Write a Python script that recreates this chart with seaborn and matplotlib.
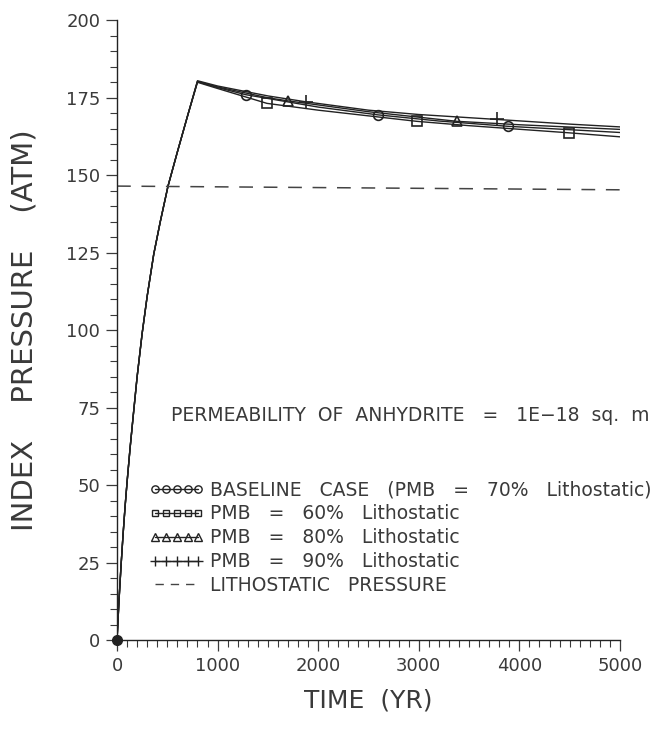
import numpy as np
import pandas as pd
import matplotlib
matplotlib.use("Agg")
import matplotlib.pyplot as plt
import seaborn as sns
from matplotlib.ticker import MultipleLocator
from matplotlib.lines import Line2D

# ---- data ----
rise_t = [0, 20, 40, 60, 80, 100, 130, 160, 200, 250, 300, 365, 430, 507, 600, 700]
rise_p = [0, 13, 24, 34, 43, 51, 62, 72, 85, 99, 111, 124.5, 135, 146.5, 157.5, 169]

t70 = [800, 1000, 1280, 2000, 2590, 3200, 3885, 4500, 5000]
p70 = [180.2, 178.3, 176.0, 172.0, 169.5, 167.5, 165.8, 164.7, 163.8]
m70 = [1280, 2590, 3885]

t60 = [800, 1000, 1490, 2000, 2980, 3500, 4490, 5000]
p60 = [180.0, 178.0, 173.2, 171.0, 167.4, 166.0, 163.7, 162.4]
m60 = [1490, 2980, 4490]

t80 = [800, 1000, 1500, 1700, 2500, 3380, 4000, 5000]
p80 = [180.3, 178.5, 175.0, 174.0, 170.5, 167.4, 166.3, 164.8]
m80 = [1700, 3380]

t90 = [800, 1000, 1500, 1877, 2500, 3000, 3780, 4500, 5000]
p90 = [180.5, 178.8, 175.6, 173.7, 171.0, 169.6, 168.0, 166.5, 165.6]
m90 = [1877, 3780]

litho_t = [0, 5000]
litho_p = [146.5, 145.3]

labels = ["BASELINE   CASE   (PMB   =   70%   Lithostatic)",
          "PMB   =   60%   Lithostatic",
          "PMB   =   80%   Lithostatic",
          "PMB   =   90%   Lithostatic",
          "LITHOSTATIC   PRESSURE"]
annotation = "PERMEABILITY  OF  ANHYDRITE   =   1E\u221218  sq.  m"
x_ticks = [0, 1000, 2000, 3000, 4000, 5000]
y_ticks = [0, 25, 50, 75, 100, 125, 150, 175, 200]

# ---- style ----
sns.set_style("ticks")
plt.rcParams["font.family"] = ["DejaVu Sans"]
INK = "#222222"
TXT = "#3a3a3a"

fig = plt.figure(figsize=(6.6, 7.36), dpi=100)
ax = fig.add_axes([0.1773, 0.1304, 0.762, 0.842])

series = [
    (t70, p70, m70, "o", 7),
    (t60, p60, m60, "s", 6.5),
    (t80, p80, m80, "^", 7),
    (t90, p90, m90, "+", 10),
]
handles = []
for (tt, pp, mm, mk, ms), lab in zip(series, labels[:4]):
    x = np.array(rise_t + tt, dtype=float)
    y = np.array(rise_p + pp, dtype=float)
    idx = [int(np.where(x == m)[0][0]) for m in mm]
    sns.lineplot(x=x, y=y, ax=ax, color=INK, lw=1.0, estimator=None, sort=False,
                 marker=mk, markevery=idx, markersize=ms, markerfacecolor="none",
                 markeredgecolor=INK, markeredgewidth=1.2)
    handles.append(Line2D([], [], color=INK, lw=1.0, marker=mk, markersize=ms * 0.75,
                          markerfacecolor="none", markeredgecolor=INK,
                          markeredgewidth=1.0, label=lab))

sns.lineplot(x=litho_t, y=litho_p, ax=ax, color="#444444", lw=1.1,
             estimator=None, sort=False, linestyle=(0, (9, 7)))
handles.append(Line2D([], [], color="#444444", lw=1.0, linestyle=(0, (6, 5)),
                      label=labels[4]))

ax.plot([0], [0], "o", color=INK, markersize=7, clip_on=False, zorder=5)

ax.set_xlim(0, 5000)
ax.set_ylim(0, 200)
ax.set_xticks(x_ticks)
ax.set_yticks(y_ticks)
ax.xaxis.set_minor_locator(MultipleLocator(100))
ax.yaxis.set_minor_locator(MultipleLocator(5))
ax.tick_params(which="major", direction="out", length=8, width=0.9,
               color=TXT, labelsize=13, labelcolor=TXT, pad=4)
ax.tick_params(which="minor", direction="out", length=5, width=0.8, color=TXT)
for s in ["left", "bottom"]:
    ax.spines[s].set_color(INK)
    ax.spines[s].set_linewidth(1.0)
sns.despine(ax=ax)

ax.set_xlabel("TIME  (YR)", fontsize=18, color=TXT, labelpad=10)
ax.set_ylabel("INDEX    PRESSURE    (ATM)", fontsize=21, color=TXT, labelpad=20)

ax.text(540, 72.5, annotation, fontsize=13.5, color=TXT, ha="left", va="center")

leg = ax.legend(handles=handles, loc="upper left", bbox_to_anchor=(325, 51.5),
                bbox_transform=ax.transData,
                frameon=False, fontsize=13.5, numpoints=5, handlelength=2.9,
                handletextpad=0.3, labelspacing=0.26, borderaxespad=0, borderpad=0)
for t in leg.get_texts():
    t.set_color(TXT)

fig.savefig("out.png", dpi=100)
